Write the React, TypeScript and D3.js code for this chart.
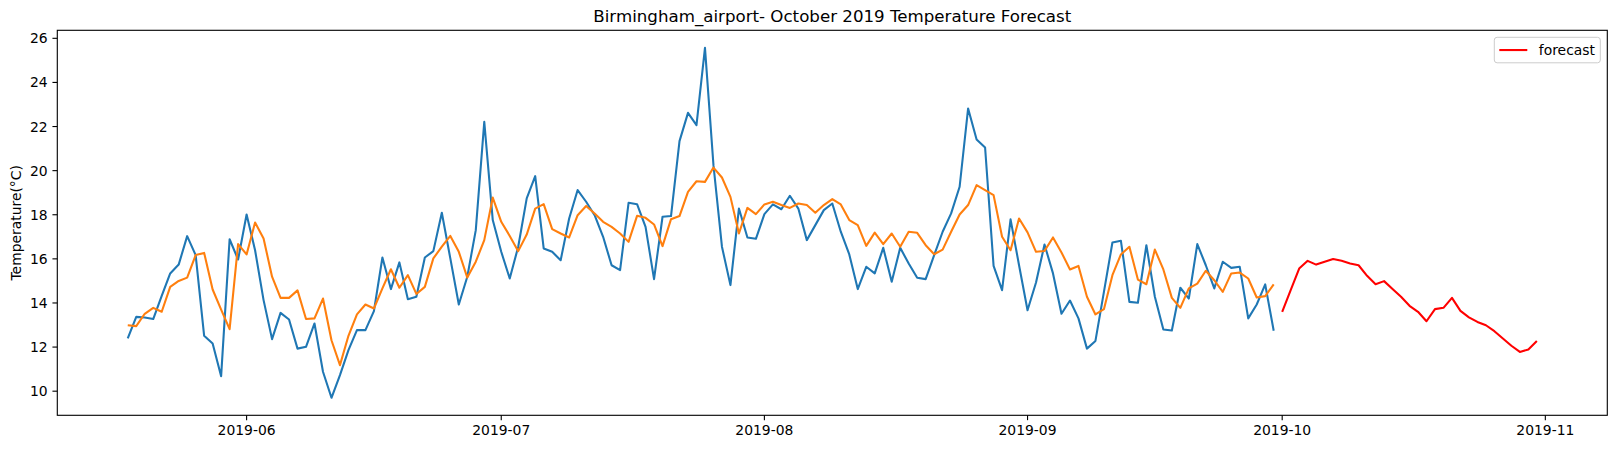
import React from "react";
import * as d3 from "d3";

const actualStart = "2019-05-18";
const forecastStart = "2019-10-01";

const actualValues: number[] = [
  12.39, 13.37, 13.34, 13.27, 14.32, 15.34, 15.74, 17.03, 16.17, 12.51,
  12.16, 10.68, 16.89, 15.97, 18.01, 16.39, 14.13, 12.36, 13.55, 13.25,
  11.93, 12.01, 13.07, 10.88, 9.70, 10.73, 11.86, 12.77, 12.77, 13.63,
  16.06, 14.63, 15.84, 14.17, 14.28, 16.06, 16.35, 18.09, 16.02, 13.93,
  15.19, 17.30, 22.21, 17.76, 16.32, 15.11, 16.55, 18.74, 19.75, 16.47,
  16.32, 15.94, 17.83, 19.12, 18.59, 17.98, 17.00, 15.71, 15.49, 18.54,
  18.48, 17.45, 15.08, 17.91, 17.94, 21.34, 22.62, 22.06, 25.57, 20.25,
  16.55, 14.81, 18.28, 16.97, 16.91, 18.03, 18.47, 18.25, 18.86, 18.28,
  16.85, 17.53, 18.21, 18.51, 17.23, 16.20, 14.63, 15.64, 15.34, 16.50,
  14.96, 16.50, 15.79, 15.14, 15.08, 16.17, 17.23, 18.06, 19.27, 22.82,
  21.41, 21.05, 15.68, 14.58, 17.79, 15.71, 13.67, 14.93, 16.65, 15.34,
  13.51, 14.11, 13.30, 11.93, 12.28, 14.50, 16.74, 16.82, 14.05, 14.01,
  16.62, 14.28, 12.80, 12.75, 14.69, 14.20, 16.67, 15.71, 14.66, 15.87,
  15.59, 15.64, 13.30, 13.93, 14.84, 12.74,
];

const fittedValues: number[] = [
  12.99, 12.95, 13.51, 13.78, 13.60, 14.73, 15.00, 15.15, 16.17, 16.27,
  14.61, 13.70, 12.81, 16.67, 16.20, 17.65, 16.92, 15.19, 14.23, 14.23,
  14.57, 13.27, 13.30, 14.20, 12.31, 11.18, 12.51, 13.48, 13.93, 13.75,
  14.66, 15.53, 14.69, 15.26, 14.41, 14.73, 16.02, 16.55, 17.04, 16.32,
  15.15, 15.87, 16.85, 18.78, 17.68, 17.04, 16.35, 17.10, 18.28, 18.48,
  17.35, 17.15, 16.97, 17.98, 18.40, 18.06, 17.68, 17.45, 17.15, 16.77,
  17.95, 17.86, 17.56, 16.58, 17.80, 17.94, 19.04, 19.52, 19.49, 20.14,
  19.69, 18.81, 17.15, 18.31, 18.03, 18.47, 18.59, 18.44, 18.31, 18.51,
  18.44, 18.09, 18.44, 18.71, 18.47, 17.76, 17.53, 16.59, 17.19, 16.67,
  17.15, 16.55, 17.23, 17.18, 16.62, 16.21, 16.42, 17.23, 18.01, 18.44,
  19.34, 19.12, 18.89, 17.00, 16.39, 17.83, 17.20, 16.32, 16.36, 16.97,
  16.29, 15.52, 15.68, 14.28, 13.48, 13.72, 15.26, 16.20, 16.55, 15.06,
  14.85, 16.42, 15.52, 14.23, 13.78, 14.66, 14.88, 15.46, 15.03, 14.50,
  15.34, 15.38, 15.11, 14.25, 14.31, 14.84,
];

const forecastValues: number[] = [
  13.60, 14.58, 15.56, 15.91, 15.74, 15.87, 15.99, 15.91, 15.79, 15.71,
  15.23, 14.85, 14.99, 14.63, 14.28, 13.87, 13.60, 13.17, 13.72, 13.78,
  14.23, 13.64, 13.35, 13.14, 12.99, 12.72, 12.39, 12.06, 11.78, 11.89,
  12.28,
];

const yTickValues = [10, 12, 14, 16, 18, 20, 22, 24, 26];
const titleText = "Birmingham_airport- October 2019 Temperature Forecast";
const yLabelText = "Temperature(°C)";
const legendLabel = "forecast";

const W = 1617;
const H = 449;
const L = 57.3;
const R = 1607.3;
const T = 30.3;
const B = 415.3;
const FONT = "'DejaVu Sans', sans-serif";
const FS = 13.9;

type Pt = { d: Date; v: number };

function series(start: string, vals: number[]): Pt[] {
  const s = d3.utcParse("%Y-%m-%d")(start) as Date;
  return vals.map((v, i) => ({ d: d3.utcDay.offset(s, i), v }));
}

export default function App() {
  const actual = series(actualStart, actualValues);
  const fitted = series(actualStart, fittedValues);
  const forecast = series(forecastStart, forecastValues);
  const all = [...actual, ...fitted, ...forecast];

  const [d0, d1] = d3.extent(all, (p) => p.d.getTime()) as [number, number];
  const dSpan = d1 - d0;
  const x = d3
    .scaleUtc()
    .domain([new Date(d0 - 0.05 * dSpan), new Date(d1 + 0.05 * dSpan)])
    .range([L, R]);

  const [v0, v1] = d3.extent(all, (p) => p.v) as [number, number];
  const vSpan = v1 - v0;
  const y = d3
    .scaleLinear()
    .domain([v0 - 0.05 * vSpan, v1 + 0.05 * vSpan])
    .range([B, T]);

  const line = d3
    .line<Pt>()
    .x((p) => x(p.d))
    .y((p) => y(p.v));

  const xTicks = x.ticks(d3.utcMonth.every(1) as any);
  const fmt = d3.utcFormat("%Y-%m");

  const legX = 1494.3;
  const legY = 37.3;
  const legW = 106;
  const legH = 25.5;
  const legCy = legY + legH / 2;

  return (
    <svg
      width={W}
      height={H}
      style={{ position: "absolute", left: 0, top: 0, background: "#fff" }}
      fontFamily={FONT}
    >
      <rect x={0} y={0} width={W} height={H} fill="#fff" />
      <text
        x={(L + R) / 2}
        y={22.3}
        textAnchor="middle"
        fontSize={16.67}
        fill="#000"
      >
        {titleText}
      </text>

      <path d={line(actual) || ""} fill="none" stroke="#1f77b4" strokeWidth={2.08} strokeLinejoin="round" />
      <path d={line(fitted) || ""} fill="none" stroke="#ff7f0e" strokeWidth={2.08} strokeLinejoin="round" />
      <path d={line(forecast) || ""} fill="none" stroke="#ff0000" strokeWidth={2.08} strokeLinejoin="round" />

      <rect x={L} y={T} width={R - L} height={B - T} fill="none" stroke="#000" strokeWidth={1.11} />

      {xTicks.map((t) => (
        <g key={t.getTime()}>
          <line x1={x(t)} x2={x(t)} y1={B} y2={B + 4.86} stroke="#000" strokeWidth={1.11} />
          <text x={x(t)} y={B + 20} textAnchor="middle" fontSize={FS} fill="#000">
            {fmt(t)}
          </text>
        </g>
      ))}

      {yTickValues.map((t) => (
        <g key={t}>
          <line x1={L - 4.86} x2={L} y1={y(t)} y2={y(t)} stroke="#000" strokeWidth={1.11} />
          <text x={L - 9.7} y={y(t) + 5} textAnchor="end" fontSize={FS} fill="#000">
            {t}
          </text>
        </g>
      ))}

      <text
        transform={`translate(${20.5},${(T + B) / 2}) rotate(-90)`}
        textAnchor="middle"
        fontSize={FS}
        fill="#000"
      >
        {yLabelText}
      </text>

      <rect
        x={legX}
        y={legY}
        width={legW}
        height={legH}
        rx={2.8}
        ry={2.8}
        fill="#fff"
        fillOpacity={0.8}
        stroke="#cccccc"
        strokeWidth={1}
      />
      <line x1={legX + 5} x2={legX + 33} y1={legCy} y2={legCy} stroke="#ff0000" strokeWidth={2.08} />
      <text x={legX + 44.5} y={legCy + 4.8} fontSize={FS} fill="#000">
        {legendLabel}
      </text>
    </svg>
  );
}
